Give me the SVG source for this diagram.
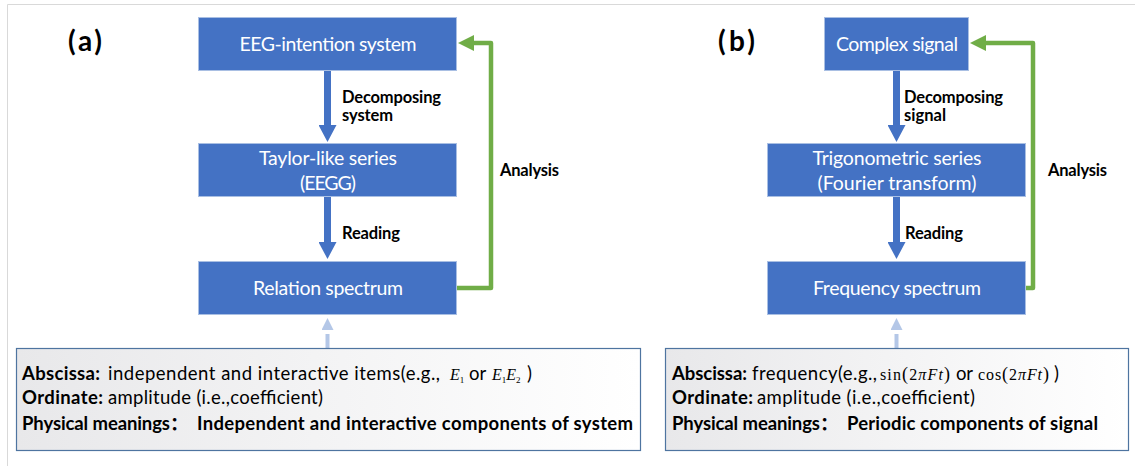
<svg xmlns="http://www.w3.org/2000/svg" width="1135" height="466" viewBox="0 0 1135 466">
<defs>
<style>
.box{fill:#4472C4;stroke:#A9BFE3;stroke-width:1}
.bt{font-family:Lato,"Liberation Sans",sans-serif;font-size:19.5px;fill:#fff;text-anchor:middle}
.lbl{font-family:Lato,"Liberation Sans",sans-serif;font-size:16.5px;font-weight:bold;fill:#000}
.pan{font-family:Lato,"Liberation Sans",sans-serif;font-size:28px;font-weight:bold;fill:#000}
.note{fill:url(#ng);stroke:#4E74A0;stroke-width:1.2}
.nt{font-family:Lato,"Liberation Sans",sans-serif;font-size:18.5px;fill:#000}
.b{font-weight:bold}
.cj{font-family:"Noto Sans CJK SC",sans-serif;font-weight:bold}
.m{font-family:"Liberation Serif",serif;font-size:16px;fill:#000}
.i{font-style:italic}
.blue{stroke:#4472C4;stroke-width:7;fill:none;marker-end:url(#hb)}
.green{stroke:#70AD47;stroke-width:4.5;fill:none;stroke-linejoin:round;stroke-linecap:round;marker-end:url(#hg)}
.lb{stroke:#B4C7E7;stroke-width:4;fill:none;stroke-dasharray:14 5;marker-end:url(#hl)}
</style>
<linearGradient id="ng" x1="0" y1="0" x2="1" y2="0">
<stop offset="0" stop-color="#E8E8EA"/>
<stop offset="1" stop-color="#FFFFFF"/>
</linearGradient>
<marker id="hb" markerUnits="userSpaceOnUse" markerWidth="17" markerHeight="18" viewBox="0 0 17 18" refX="0" refY="9" orient="auto">
<path d="M0,0 L17,9 L0,18 Z" fill="#4472C4"/>
</marker>
<marker id="hg" markerUnits="userSpaceOnUse" markerWidth="16" markerHeight="16" viewBox="0 0 16 16" refX="0" refY="8" orient="auto">
<path d="M0,0 L16,8 L0,16 Z" fill="#70AD47"/>
</marker>
<marker id="hl" markerUnits="userSpaceOnUse" markerWidth="12" markerHeight="12" viewBox="0 0 12 12" refX="0" refY="6" orient="auto">
<path d="M0,0 L12,6 L0,12 Z" fill="#B4C7E7"/>
</marker>
</defs>

<path d="M7.5,466 V4.5 H1135" stroke="#D9D9D9" stroke-width="1" fill="none"/>

<text class="pan" x="68" y="51" textLength="34">(a)</text>
<text class="pan" x="718" y="51" textLength="37">(b)</text>

<g id="connectors">
<path class="blue" d="M327.5,71 V125"/>
<path class="blue" d="M327.5,197 V242"/>
<path class="green" d="M457,288 H491 V43 H474"/>
<path class="lb" d="M327.5,348 V330"/>
<path class="blue" d="M896.5,71 V125"/>
<path class="blue" d="M896.5,197 V242"/>
<path class="green" d="M1026,288 H1033 V43 H986"/>
<path class="lb" d="M896.5,348 V330"/>
<text class="lbl" x="342" y="103" textLength="99">Decomposing</text>
<text class="lbl" x="342" y="121" textLength="51">system</text>
<text class="lbl" x="342" y="239" textLength="58">Reading</text>
<text class="lbl" x="500" y="176" textLength="59">Analysis</text>
<text class="lbl" x="904" y="103" textLength="99">Decomposing</text>
<text class="lbl" x="904" y="121" textLength="42">signal</text>
<text class="lbl" x="905" y="239" textLength="58">Reading</text>
<text class="lbl" x="1048" y="176" textLength="59">Analysis</text>
</g>

<g id="eeg-system">
<rect class="box" x="198.5" y="17.5" width="258" height="53"/>
<text class="bt" x="328" y="50.5" textLength="177">EEG-intention system</text>
</g>
<g id="taylor-series">
<rect class="box" x="198.5" y="143.5" width="258" height="53"/>
<text class="bt" x="328" y="165" textLength="138">Taylor-like series</text>
<text class="bt" x="328" y="189.5" textLength="56">(EEGG)</text>
</g>
<g id="relation-spectrum">
<rect class="box" x="198.5" y="261.5" width="258" height="53"/>
<text class="bt" x="328" y="294.5" textLength="150">Relation spectrum</text>
</g>

<g id="complex-signal">
<rect class="box" x="824.5" y="17.5" width="144" height="53"/>
<text class="bt" x="897" y="50.5" textLength="122">Complex signal</text>
</g>
<g id="trig-series">
<rect class="box" x="767.5" y="143.5" width="258" height="53"/>
<text class="bt" x="897" y="165" textLength="169">Trigonometric series</text>
<text class="bt" x="897" y="189.5" textLength="159">(Fourier transform)</text>
</g>
<g id="frequency-spectrum">
<rect class="box" x="767.5" y="261.5" width="258" height="53"/>
<text class="bt" x="897" y="294.5" textLength="168">Frequency spectrum</text>
</g>

<g id="note-a">
<rect class="note" x="16.5" y="348.5" width="624" height="102"/>
<text class="nt b" x="22" y="380" textLength="78">Abscissa:</text>
<text class="nt" x="108" y="380" textLength="332">independent and interactive items(e.g.,</text>
<text class="m" x="450" y="380"><tspan class="i">E</tspan><tspan font-size="9" dy="3">1</tspan></text>
<text class="nt" x="469" y="380">or</text>
<text class="m" x="492" y="380"><tspan class="i">E</tspan><tspan font-size="9" dy="3">1</tspan><tspan class="i" dy="-3">E</tspan><tspan font-size="9" dy="3">2</tspan></text>
<text class="nt" x="527" y="380">)</text>
<text class="nt b" x="22" y="404" textLength="81">Ordinate:</text>
<text class="nt" x="108" y="404" textLength="215">amplitude (i.e.,coefficient)</text>
<text class="nt b" x="22" y="430" textLength="148">Physical meanings</text>
<text class="nt cj" x="170" y="430">：</text>
<text class="nt b" x="197" y="430" textLength="436">Independent and interactive components of system</text>
</g>

<g id="note-b">
<rect class="note" x="665.5" y="348.5" width="463" height="102"/>
<text class="nt b" x="672" y="380" textLength="75">Abscissa:</text>
<text class="nt" x="752" y="380" textLength="125">frequency(e.g.,</text>
<text class="m" x="880" y="380" textLength="70">sin<tspan font-size="18">(</tspan>2<tspan class="i">πFt</tspan><tspan font-size="18">)</tspan></text>
<text class="nt" x="956" y="380" textLength="17">or</text>
<text class="m" x="978" y="380" textLength="71">cos<tspan font-size="18">(</tspan>2<tspan class="i">πFt</tspan><tspan font-size="18">)</tspan></text>
<text class="nt" x="1054" y="380">)</text>
<text class="nt b" x="672" y="404" textLength="81">Ordinate:</text>
<text class="nt" x="757" y="404" textLength="218">amplitude (i.e.,coefficient)</text>
<text class="nt b" x="672" y="430" textLength="148">Physical meanings</text>
<text class="nt cj" x="820" y="430">：</text>
<text class="nt b" x="847" y="430" textLength="251">Periodic components of signal</text>
</g>
</svg>
